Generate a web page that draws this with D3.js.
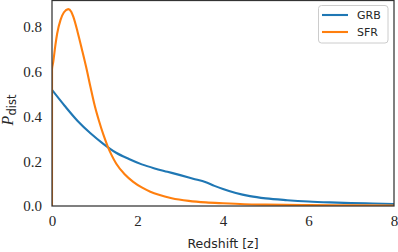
<!DOCTYPE html>
<html><head><meta charset="utf-8">
<script src="https://cdn.jsdelivr.net/npm/d3@7"></script>
<style>body{margin:0;background:#fff;} svg{display:block;} .tk text{font-family:'Liberation Serif','DejaVu Serif',serif !important;}</style>
</head><body>
<svg id="c" width="398" height="252"></svg>
<script>
const grbZ   = [0, 0.3, 0.6, 0.9, 1.2, 1.5, 1.8, 2.1, 2.4, 2.7, 3.0, 3.3, 3.6, 3.8, 4.0, 4.3, 4.63, 5.0, 5.5, 6.0, 6.5, 7.0, 7.5, 8.0];
const grbVal = [0.519, 0.447, 0.38, 0.325, 0.278, 0.238, 0.21, 0.186, 0.168, 0.153, 0.138, 0.122, 0.106, 0.09, 0.076, 0.058, 0.044, 0.034, 0.026, 0.02, 0.016, 0.013, 0.011, 0.009];
const sfrZ   = [0, 0.001, 0.03, 0.08, 0.12, 0.2, 0.28, 0.38, 0.45, 0.5, 0.6, 0.7, 0.8, 0.9, 1.0, 1.1, 1.2, 1.3, 1.4, 1.5, 1.7, 1.9, 2.1, 2.3, 2.5, 2.8, 3.2, 3.6, 4.0, 4.5, 5.0, 6.0, 7.0, 8.0];
const sfrVal = [0, 0.61, 0.645, 0.72, 0.77, 0.832, 0.866, 0.88, 0.868, 0.845, 0.777, 0.70, 0.62, 0.532, 0.448, 0.38, 0.32, 0.268, 0.225, 0.19, 0.142, 0.108, 0.083, 0.064, 0.05, 0.035, 0.023, 0.016, 0.012, 0.008, 0.006, 0.004, 0.003, 0.002];
const xTicks = [0, 2, 4, 6, 8];
const yTicks = [0.0, 0.2, 0.4, 0.6, 0.8];
const seriesNames = ["GRB", "SFR"];
const colors = ["#1f77b4", "#ff7f0e"];

const svg = d3.select("#c");
const L = 52, R = 394, T = 0.5, B = 206;
const x = d3.scaleLinear().domain([0, 8]).range([L, R]);
const y = d3.scaleLinear().domain([0, 0.9207]).range([B, 0]);

const serif = "'Liberation Serif', 'DejaVu Serif', serif";
const sans = "'DejaVu Sans', sans-serif";

const line = d3.line().x(d => x(d[0])).y(d => y(d[1])).curve(d3.curveMonotoneX);
svg.append("clipPath").attr("id","pc").append("rect")
  .attr("x", L).attr("y", 0).attr("width", R - L).attr("height", B);

const series = [
  grbZ.map((z, i) => [z, grbVal[i]]),
  sfrZ.map((z, i) => [z, sfrVal[i]])
];
const g = svg.append("g").attr("clip-path", "url(#pc)");
series.forEach((s, i) => {
  g.append("path").datum(s).attr("d", line)
    .attr("fill", "none").attr("stroke", colors[i]).attr("stroke-width", 2.1)
    .attr("stroke-linejoin", "round").attr("stroke-linecap", "butt");
});

// spines
svg.append("rect").attr("x", L).attr("y", T).attr("width", R - L).attr("height", B - T)
  .attr("fill", "none").attr("stroke", "#333").attr("stroke-width", 1.25);

// axes (labels only)
const xAxis = d3.axisBottom(x).tickValues(xTicks).tickSize(0).tickPadding(9).tickFormat(d3.format("d"));
const xg = svg.append("g").attr("class", "tk").attr("transform", `translate(0,${B})`).call(xAxis);
const yAxis = d3.axisLeft(y).tickValues(yTicks).tickSize(0).tickPadding(10).tickFormat(d3.format(".1f"));
const yg = svg.append("g").attr("class", "tk").attr("transform", `translate(${L},0)`).call(yAxis);
[xg, yg].forEach(a => {
  a.attr("font-family", serif);
  a.select(".domain").remove();
  a.selectAll("text").style("font-family", serif).attr("font-size", 15).attr("fill", "#262626");
});

// axis labels
svg.append("text").attr("x", (L + R) / 2).attr("y", 248).attr("text-anchor", "middle")
  .attr("font-family", sans).attr("font-size", 12.5).attr("fill", "#262626").text("Redshift [z]");
const yl = svg.append("text").attr("transform", "translate(13,110) rotate(-90)")
  .attr("text-anchor", "middle").attr("fill", "#262626");
yl.append("tspan").style("font-family", serif).attr("font-style", "italic").attr("font-size", 16).text("P");
yl.append("tspan").attr("font-family", sans).attr("font-size", 11.5).attr("dy", 3).text("dist");

// legend
const lg = svg.append("g");
lg.append("rect").attr("x", 318.5).attr("y", 5.5).attr("width", 69.5).attr("height", 37.5)
  .attr("rx", 3).attr("fill", "#fff").attr("fill-opacity", 0.8).attr("stroke", "#ccc").attr("stroke-width", 1);
seriesNames.forEach((n, i) => {
  const yy = 15 + i * 17;
  lg.append("line").attr("x1", 322).attr("x2", 348).attr("y1", yy).attr("y2", yy)
    .attr("stroke", colors[i]).attr("stroke-width", 2.1);
  lg.append("text").attr("x", 357).attr("y", yy + 4).attr("font-family", sans).attr("font-size", 11)
    .attr("fill", "#262626").text(n);
});
</script>
</body></html>
